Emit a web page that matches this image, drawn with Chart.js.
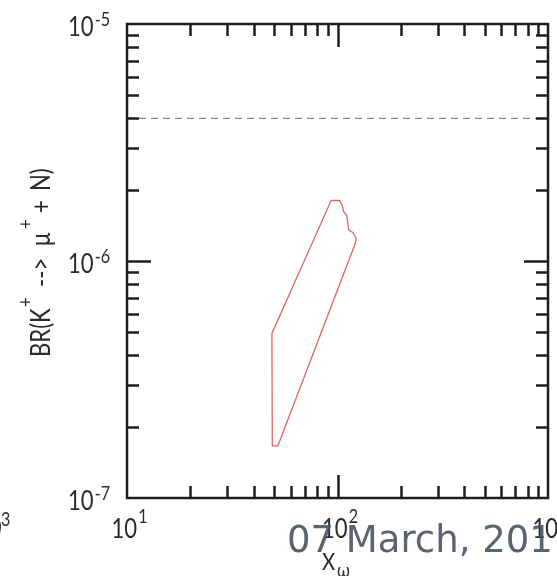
<!DOCTYPE html>
<html>
<head>
<meta charset="utf-8">
<script src="https://cdn.jsdelivr.net/npm/chart.js@4/dist/chart.umd.min.js"></script>
<style>
  html, body { margin: 0; padding: 0; background: #fff; }
  #wrap { width: 557px; height: 576px; }
</style>
</head>
<body>
<div id="wrap"><canvas id="graph-div" width="557" height="576"></canvas></div>
<script>
// axis ranges (log)
const xRange = [10, 1000];
const yRange = [1e-7, 1e-5];
const xDecades = [1, 2, 3];
const yDecades = [-5, -6, -7];

// allowed region outline, X_omega vs BR
const contourX = [93.3, 102.2, 105.3, 107.1, 110.7, 113.1, 118.2, 122.6, 121.7, 52.1, 49.0, 48.8, 93.3];
const contourY = [1.80e-6, 1.80e-6, 1.72e-6, 1.61e-6, 1.56e-6, 1.35e-6, 1.32e-6, 1.25e-6, 1.19e-6, 1.66e-7, 1.66e-7, 4.95e-7, 1.80e-6];

// experimental limit
const limitY = 4e-6;

const labelFont = '"Lato", "Open Sans", sans-serif';
const inkColor = '#2b2b2b';
const squeeze = 0.85; // labels are set in a narrow face

function toPoints(xs, ys) {
  return xs.map((x, i) => ({ x: x, y: ys[i] }));
}

// text drawn slightly condensed, x is the left edge
function narrowText(ctx, txt, size, x, y) {
  ctx.save();
  ctx.font = size + 'px ' + labelFont;
  ctx.translate(x, y);
  ctx.scale(squeeze, 1);
  ctx.textAlign = 'left';
  ctx.fillText(txt, 0, 0);
  const w = ctx.measureText(txt).width * squeeze;
  ctx.restore();
  return w;
}

function narrowWidth(ctx, txt, size) {
  ctx.save();
  ctx.font = size + 'px ' + labelFont;
  const w = ctx.measureText(txt).width * squeeze;
  ctx.restore();
  return w;
}

// frame, inward ticks on all four sides, and the power-of-ten labels
const framePlugin = {
  id: 'frame',
  afterDatasetsDraw(chart) {
    const ctx = chart.ctx;
    const area = chart.chartArea;
    const xs = chart.scales.x;
    const ys = chart.scales.y;
    ctx.save();
    ctx.strokeStyle = '#1e1e1e';
    ctx.lineWidth = 2.5;
    ctx.lineCap = 'butt';

    // x ticks (bottom + top)
    for (let d = 1; d < 3; d++) {
      for (let m = 1; m <= 9; m++) {
        const v = m * Math.pow(10, d);
        if (v <= xRange[0] || v >= xRange[1]) continue;
        const px = Math.round(xs.getPixelForValue(v)) + 0.5;
        const len = m === 1 ? 23 : 12;
        ctx.beginPath();
        ctx.moveTo(px, area.bottom); ctx.lineTo(px, area.bottom - len);
        ctx.moveTo(px, area.top); ctx.lineTo(px, area.top + len);
        ctx.stroke();
      }
    }
    // y ticks (left + right)
    for (let d = -7; d < -5; d++) {
      for (let m = 1; m <= 9; m++) {
        const v = m * Math.pow(10, d);
        if (v <= yRange[0] * 1.0001 || v >= yRange[1] * 0.9999) continue;
        const py = Math.round(ys.getPixelForValue(v)) + 0.5;
        const len = m === 1 ? 24 : 12;
        ctx.beginPath();
        ctx.moveTo(area.left, py); ctx.lineTo(area.left + len, py);
        ctx.moveTo(area.right, py); ctx.lineTo(area.right - len, py);
        ctx.stroke();
      }
    }
    ctx.strokeRect(area.left, area.top, area.right - area.left, area.bottom - area.top);

    ctx.fillStyle = inkColor;
    ctx.textBaseline = 'alphabetic';

    // y labels: 10^-5, 10^-6, 10^-7
    yDecades.forEach(p => {
      const py = ys.getPixelForValue(Math.pow(10, p));
      const sup = String(p);
      const supW = narrowWidth(ctx, sup, 19);
      const baseW = narrowWidth(ctx, '10', 26);
      const right = area.left - 17;
      narrowText(ctx, sup, 19, right - supW, py + 2);
      narrowText(ctx, '10', 26, right - supW - baseW - 1, py + 12);
    });

    // x labels: 10^1, 10^2, 10^3
    xDecades.forEach(p => {
      const px = xs.getPixelForValue(Math.pow(10, p));
      const baseW = narrowWidth(ctx, '10', 26);
      const supW = narrowWidth(ctx, String(p), 19);
      const start = px - (baseW + supW) / 2 + 2;
      narrowText(ctx, '10', 26, start, area.bottom + 40);
      narrowText(ctx, String(p), 19, start + baseW + 1, area.bottom + 25);
    });

    // x title: X_omega
    narrowText(ctx, 'X', 24, 322, 570);
    narrowText(ctx, 'ω', 20, 337, 577);

    // y title, rotated; pieces placed along the baseline
    ctx.save();
    ctx.translate(50, 357);
    ctx.rotate(-Math.PI / 2);
    const parts = [
      ['BR(K', 0, 26, 0],
      ['+', 50, 20, -18],
      ['-->', 70, 26, 0],
      ['μ', 111, 26, 0],
      ['+', 128, 20, -18],
      ['+', 144, 26, 0],
      ['N)', 166, 26, 0]
    ];
    parts.forEach(([txt, off, size, lift]) => {
      narrowText(ctx, txt, size, off, lift);
    });
    ctx.restore();

    // edge of the neighbouring panel's 10^3 label
    narrowText(ctx, '10', 26, -24, 537);
    narrowText(ctx, '3', 19, 1, 526);

    // slide footer
    ctx.font = '37px "DejaVu Sans", Verdana, sans-serif';
    ctx.fillStyle = 'rgba(72, 82, 96, 0.9)';
    ctx.textAlign = 'left';
    ctx.fillText('07 March, 2017', 287, 552);

    ctx.restore();
  }
};

const ctx = document.getElementById('graph-div').getContext('2d');
const myChart = new Chart(ctx, {
  type: 'scatter',
  data: {
    datasets: [
      {
        label: 'limit',
        data: toPoints(xRange, [limitY, limitY]),
        showLine: true,
        borderColor: '#5ea35e',
        borderWidth: 1.2,
        borderDash: [7, 5],
        pointRadius: 0,
        tension: 0
      },
      {
        label: 'allowed',
        data: toPoints(contourX, contourY),
        showLine: true,
        borderColor: '#e06464',
        borderWidth: 1.3,
        pointRadius: 0,
        tension: 0
      }
    ]
  },
  options: {
    responsive: false,
    animation: false,
    layout: { padding: { left: 127, right: 9, top: 24, bottom: 78 } },
    plugins: { legend: { display: false }, tooltip: { enabled: false } },
    scales: {
      x: { type: 'logarithmic', min: xRange[0], max: xRange[1], display: false },
      y: { type: 'logarithmic', min: yRange[0], max: yRange[1], display: false }
    }
  },
  plugins: [framePlugin]
});
</script>
</body>
</html>
